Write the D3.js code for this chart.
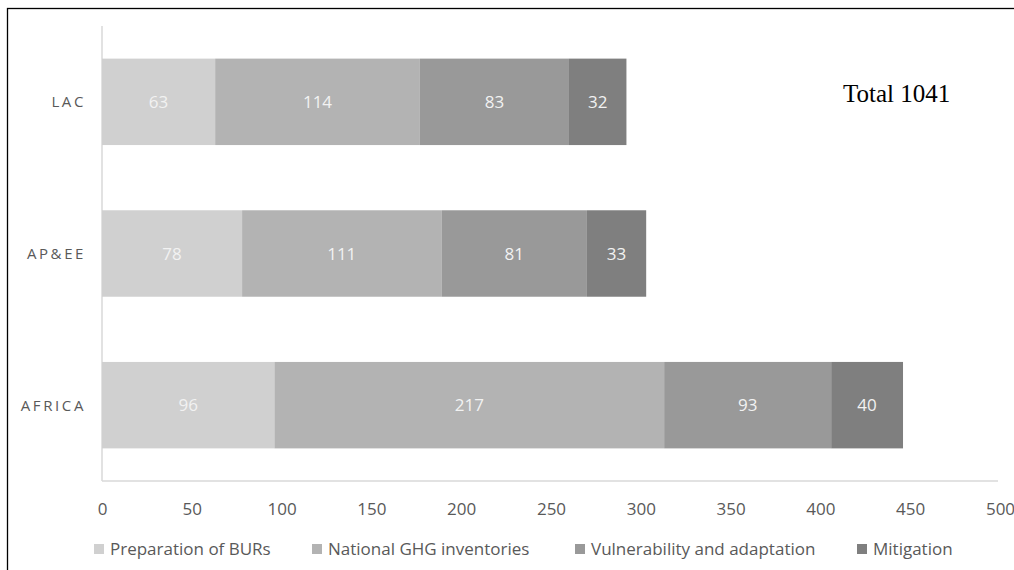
<!DOCTYPE html>
<html><head><meta charset="utf-8">
<script src="https://cdn.jsdelivr.net/npm/d3@7"></script>
<style>body{margin:0;background:#fff}svg{display:block}</style>
</head><body><svg id="c" width="1014" height="570"></svg>
<script>
const categories = ["LAC", "AP&EE", "AFRICA"];
const seriesNames = ["Preparation of BURs", "National GHG inventories", "Vulnerability and adaptation", "Mitigation"];
const burs = [63, 78, 96];
const ghg = [114, 111, 217];
const vuln = [83, 81, 93];
const mitig = [32, 33, 40];
const xTicks = [0, 50, 100, 150, 200, 250, 300, 350, 400, 450, 500];
const totalLabel = "Total 1041";
const colors = ["#d0d0d0", "#b3b3b3", "#999999", "#7f7f7f"];

const svg = d3.select("#c");
svg.append("rect").attr("x", 7.5).attr("y", 8.5).attr("width", 1100).attr("height", 700)
  .attr("fill", "none").attr("stroke", "#000").attr("stroke-width", 1.3);

const x = d3.scaleLinear().domain([0, 500]).range([102, 1000]);
const y = d3.scaleBand().domain(categories).range([26, 481]).paddingInner(0.43).paddingOuter(0.215);

const rows = categories.map((c, i) => ({cat: c, burs: burs[i], ghg: ghg[i], vuln: vuln[i], mitig: mitig[i]}));
const keys = ["burs", "ghg", "vuln", "mitig"];
const stack = d3.stack().keys(keys)(rows);

// axis lines
svg.append("line").attr("x1", x(0)).attr("x2", x(0)).attr("y1", 26).attr("y2", 481)
  .attr("stroke", "#d9d9d9").attr("stroke-width", 1.5);
svg.append("line").attr("x1", x(0)).attr("x2", x(500) - 2).attr("y1", 481).attr("y2", 481)
  .attr("stroke", "#d9d9d9").attr("stroke-width", 1.5);

stack.forEach((s, si) => {
  const g = svg.append("g");
  g.selectAll("rect").data(s).join("rect")
    .attr("x", d => x(d[0])).attr("width", d => x(d[1]) - x(d[0]))
    .attr("y", d => y(d.data.cat)).attr("height", y.bandwidth())
    .attr("fill", colors[si]);
  g.selectAll("text").data(s).join("text")
    .attr("x", d => (x(d[0]) + x(d[1])) / 2)
    .attr("y", d => y(d.data.cat) + y.bandwidth() / 2)
    .attr("dy", "0.36em").attr("text-anchor", "middle")
    .attr("font-family", "Open Sans, sans-serif").attr("font-size", 17)
    .attr("fill", "#f2f2f2")
    .text(d => d[1] - d[0]);
});

// category labels
svg.append("g").selectAll("text").data(categories).join("text")
  .attr("x", 86).attr("y", d => y(d) + y.bandwidth() / 2)
  .attr("dy", "0.36em").attr("text-anchor", "end")
  .attr("font-family", "Open Sans, sans-serif").attr("font-size", 15)
  .attr("letter-spacing", "2.6px").attr("fill", "#595959")
  .text(d => d);

// x ticks
const xAxis = d3.axisBottom(x).tickValues(xTicks).tickSize(0).tickPadding(0);
const ax = svg.append("g").attr("transform", "translate(0,481)").call(xAxis);
ax.select(".domain").remove();
ax.selectAll("text").attr("y", 34).attr("dy", 0)
  .attr("font-family", "Open Sans, sans-serif").attr("font-size", 17).attr("fill", "#595959");

// total label
svg.append("text").attr("x", 843).attr("y", 102)
  .attr("font-family", "Liberation Serif, DejaVu Serif, serif").attr("font-size", 25)
  .attr("fill", "#000").text(totalLabel);

// legend
const legX = [94, 312, 575, 857];
const leg = svg.append("g").selectAll("g").data(seriesNames).join("g")
  .attr("transform", (d, i) => `translate(${legX[i]},549)`);
leg.append("rect").attr("x", 0).attr("y", -5).attr("width", 10).attr("height", 10)
  .attr("fill", (d, i) => colors[i]);
leg.append("text").attr("x", 16).attr("y", 6)
  .attr("font-family", "Open Sans, sans-serif").attr("font-size", 17).attr("fill", "#595959")
  .text(d => d);
</script></body></html>
